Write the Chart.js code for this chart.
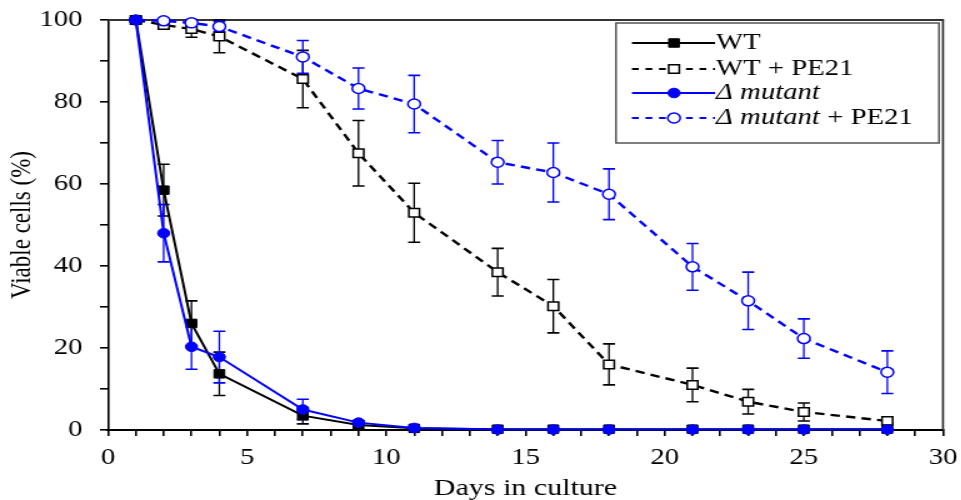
<!DOCTYPE html>
<html><head><meta charset="utf-8">
<script src="https://cdn.jsdelivr.net/npm/chart.js"></script>
<style>
html,body{margin:0;padding:0;background:#fff;overflow:hidden;}
#wrap{width:769px;height:500px;transform:scaleX(1.25);transform-origin:0 0;}
canvas{display:block;}
</style></head><body>
<div id="wrap"><canvas id="c" width="769" height="500"></canvas></div>
<script>
// ---- data ----
const days = [1, 2, 3, 4, 7, 9, 11, 14, 16, 18, 21, 23, 25, 28];
const wt        = [100, 58.5, 26, 13.7, 3.5, 1.2, 0.4, 0.2, 0.2, 0.2, 0.2, 0.2, 0.2, 0.2];
const wtErr     = [0.5, 6.3, 5.5, 5.3, 2, 1, 0, 0, 0, 0, 0, 0, 0, 0];
const wtPe      = [100, 98.8, 97.8, 96, 85.6, 67.5, 53, 38.5, 30.2, 16, 11, 6.9, 4.4, 2.2];
const wtPeErr   = [0.5, 1, 2, 4, 7, 8, 7.2, 5.8, 6.5, 5, 4.1, 3, 2.2, 0.5];
const mut       = [100, 48, 20.3, 17.8, 5, 1.8, 0.5, 0.1, 0.1, 0.1, 0.1, 0.1, 0.1, 0.1];
const mutErr    = [0.5, 7, 5.5, 6.3, 2.5, 0.5, 0, 0, 0, 0, 0, 0, 0, 0];
const mutPe     = [100, 99.8, 99.3, 98.4, 91, 83.3, 79.5, 65.3, 62.8, 57.5, 39.8, 31.5, 22.3, 14.1];
const mutPeErr  = [0.3, 0.5, 0.8, 1.2, 4, 5, 7, 5.3, 7.2, 6.2, 5.7, 7, 4.8, 5.2];
const xTickLabels = [0, 5, 10, 15, 20, 25, 30];
const yTickLabels = [0, 20, 40, 60, 80, 100];
const labels = ['WT', 'WT + PE21', '\u0394 mutant', '\u0394 mutant + PE21'];
const italicPart = '\u0394 mutant';

const FONT = "'Liberation Serif', 'Times New Roman', serif";
const S = 1.25; // horizontal stretch of the picture
const BLUE = '#0000ff';

const pts = arr => days.map((d, i) => ({x: d, y: arr[i]}));

const errorBars = {
  id: 'errorBars',
  beforeDatasetsDraw(chart) {
    const {ctx, scales: {x, y}} = chart;
    chart.data.datasets.forEach(ds => {
      if (!ds.errors) return;
      ctx.save();
      ctx.strokeStyle = ds.borderColor;
      ds.data.forEach((p, i) => {
        const e = ds.errors[i];
        if (!e) return;
        const px = x.getPixelForValue(p.x);
        const y1 = y.getPixelForValue(p.y + e);
        const y2 = y.getPixelForValue(p.y - e);
        ctx.lineWidth = 1.3;
        ctx.beginPath(); ctx.moveTo(px, y1); ctx.lineTo(px, y2); ctx.stroke();
        ctx.lineWidth = 1.6;
        ctx.beginPath();
        ctx.moveTo(px - 4.8, y1); ctx.lineTo(px + 4.8, y1);
        ctx.moveTo(px - 4.8, y2); ctx.lineTo(px + 4.8, y2);
        ctx.stroke();
      });
      ctx.restore();
    });
  }
};

const frame = {
  id: 'frame',
  beforeDatasetsDraw(chart) {
    const {ctx, chartArea: a} = chart;
    ctx.save();
    ctx.strokeStyle = '#333';
    ctx.lineWidth = 2;
    ctx.beginPath(); ctx.moveTo(a.left, a.top); ctx.lineTo(a.right + 0.8, a.top); ctx.stroke();
    ctx.lineWidth = 1.7;
    ctx.beginPath(); ctx.moveTo(a.right, a.top); ctx.lineTo(a.right, a.bottom); ctx.stroke();
    ctx.restore();
  }
};

function drawMarker(ctx, ds, x, y) {
  ctx.save();
  ctx.fillStyle = ds.pointBackgroundColor;
  ctx.strokeStyle = ds.pointBorderColor;
  ctx.lineWidth = ds.pointBorderWidth;
  ctx.beginPath();
  if (ds.pointStyle === 'rect') {
    const h = Math.SQRT1_2 * ds.pointRadius;
    ctx.rect(x - h, y - h, 2 * h, 2 * h);
  } else {
    ctx.arc(x, y, ds.pointRadius, 0, Math.PI * 2);
  }
  ctx.fill(); ctx.stroke();
  ctx.restore();
}

const boxLegend = {
  id: 'boxLegend',
  afterDraw(chart) {
    const ctx = chart.ctx;
    const bx = 616 / S, by = 23, bw = (939 - 616) / S, bh = 120;
    ctx.save();
    ctx.fillStyle = '#fff'; ctx.fillRect(bx, by, bw, bh);
    ctx.strokeStyle = '#555'; ctx.lineWidth = 1.5; ctx.strokeRect(bx, by, bw, bh);
    const rows = [43, 69, 93, 118];
    chart.data.datasets.forEach((ds, i) => {
      const y = rows[i];
      ctx.strokeStyle = ds.borderColor;
      ctx.lineWidth = 2;
      ctx.setLineDash(ds.borderDash && ds.borderDash.length ? [5.4, 5.4] : []);
      ctx.beginPath(); ctx.moveTo(632 / S, y); ctx.lineTo(715 / S, y); ctx.stroke();
      ctx.setLineDash([]);
      drawMarker(ctx, ds, 674 / S, y);
      ctx.fillStyle = '#000';
      ctx.textBaseline = 'middle';
      ctx.textAlign = 'left';
      let tx = 716 / S;
      const lab = ds.label;
      if (lab.startsWith(italicPart)) {
        ctx.font = 'italic 23px ' + FONT;
        ctx.fillText(italicPart, tx, y);
        tx += ctx.measureText(italicPart).width;
        const rest = lab.slice(italicPart.length);
        ctx.font = '23px ' + FONT;
        ctx.fillText(rest, tx, y);
      } else {
        ctx.font = '23px ' + FONT;
        ctx.fillText(lab, tx, y);
      }
    });
    ctx.restore();
  }
};

Chart.defaults.font.family = FONT;
Chart.defaults.color = '#000';

new Chart(document.getElementById('c'), {
  type: 'line',
  data: {
    datasets: [
      {label: labels[0], data: pts(wt), errors: wtErr, borderColor: '#000', borderWidth: 2,
       pointStyle: 'rect', pointRadius: 6, pointBackgroundColor: '#000', pointBorderColor: '#000',
       pointBorderWidth: 1, order: 1, clip: false, tension: 0},
      {label: labels[1], data: pts(wtPe), errors: wtPeErr, borderColor: '#000', borderWidth: 2.4,
       borderDash: [7.5, 5], pointStyle: 'rect', pointRadius: 6, pointBackgroundColor: '#fff',
       pointBorderColor: '#000', pointBorderWidth: 1.5, order: 3, clip: false, tension: 0},
      {label: labels[2], data: pts(mut), errors: mutErr, borderColor: BLUE, borderWidth: 2,
       pointStyle: 'circle', pointRadius: 4.8, pointBackgroundColor: BLUE, pointBorderColor: BLUE,
       pointBorderWidth: 1, order: 0, clip: false, tension: 0},
      {label: labels[3], data: pts(mutPe), errors: mutPeErr, borderColor: BLUE, borderWidth: 2.4,
       borderDash: [7.5, 5], pointStyle: 'circle', pointRadius: 5, pointBackgroundColor: '#fff',
       pointBorderColor: BLUE, pointBorderWidth: 1.5, order: 2, clip: false, tension: 0}
    ]
  },
  options: {
    responsive: false,
    animation: false,
    events: [],
    layout: {padding: {left: 0, right: 769 - 943 / S, top: 20, bottom: 0}},
    plugins: {legend: {display: false}, tooltip: {enabled: false}},
    scales: {
      x: {
        type: 'linear', min: 0, max: 30,
        afterFit(s) { s.height = 70; s.paddingLeft = 0; s.paddingRight = 0; },
        ticks: {stepSize: 1, autoSkip: false, maxRotation: 0, padding: 8, color: '#000',
                font: {size: 23, lineHeight: 1.2},
                callback: v => xTickLabels.includes(v) ? String(v) : ''},
        grid: {drawOnChartArea: false, drawTicks: true, tickLength: 6, tickColor: '#000',
               tickWidth: 1.6, lineWidth: 1.6, color: '#000'},
        border: {display: true, color: '#000', width: 2},
        title: {display: true, text: 'Days in culture', color: '#000',
                font: {size: 24, lineHeight: 1.2}, padding: {top: 0, bottom: -3}}
      },
      y: {
        min: 0, max: 100,
        afterFit(s) { s.width = 108 / S; s.paddingTop = 0; s.paddingBottom = 0; },
        ticks: {stepSize: 10, padding: 14, color: '#000', font: {size: 23, lineHeight: 1.2},
                callback: v => yTickLabels.includes(v) ? String(v) : ''},
        grid: {drawOnChartArea: false, drawTicks: true, tickLength: 6.4, tickColor: '#000',
               tickWidth: 1.6, lineWidth: 1.6, color: '#000'},
        border: {display: true, color: '#000', width: 1.6},
        title: {display: true, text: 'Viable cells (%)', color: '#000',
                font: {size: 23, lineHeight: 1.2}, padding: {top: 4, bottom: 0}}
      }
    }
  },
  plugins: [frame, errorBars, boxLegend]
});
</script>
</body></html>
